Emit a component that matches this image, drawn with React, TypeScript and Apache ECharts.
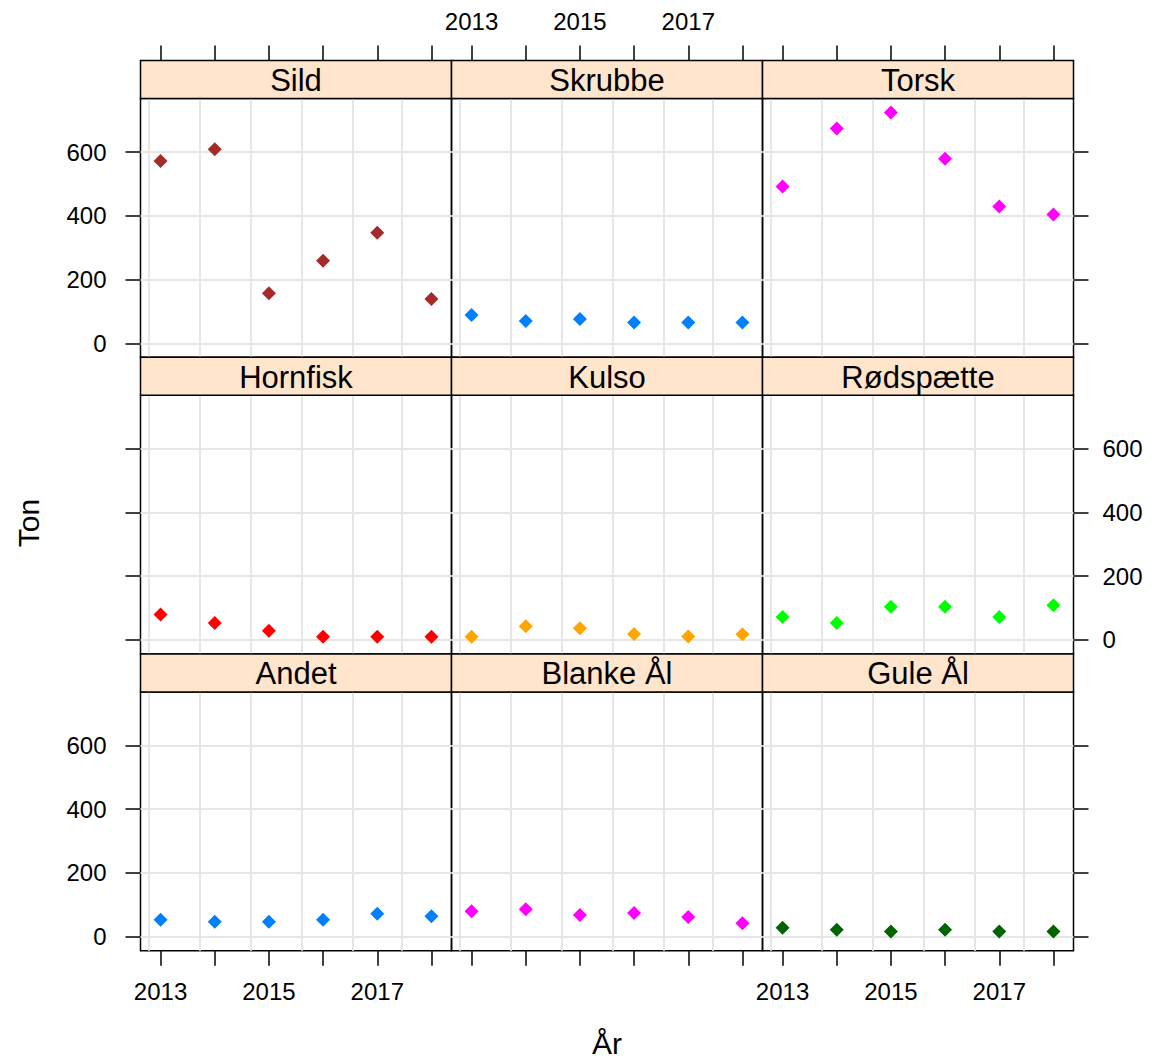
import React, { useEffect, useRef } from "react";
import * as echarts from "echarts";

const years = [2013, 2014, 2015, 2016, 2017, 2018];
const panelNames = ["Sild", "Skrubbe", "Torsk", "Hornfisk", "Kulso", "Rødspætte", "Andet", "Blanke Ål", "Gule Ål"];

const sild = [572, 609, 157, 259, 347, 139];
const skrubbe = [89, 70, 76, 65, 65, 65];
const torsk = [492, 674, 724, 579, 429, 404];
const hornfisk = [80, 53, 29, 10, 10, 10];
const kulso = [10, 43, 37, 19, 11, 18];
const roedspaette = [72, 53, 104, 104, 72, 109];
const andet = [53, 47, 47, 53, 72, 64];
const blankeAal = [80, 86, 68, 74, 62, 42];
const guleAal = [28, 22, 16, 22, 16, 16];

const panelValues = [sild, skrubbe, torsk, hornfisk, kulso, roedspaette, andet, blankeAal, guleAal];
const panelColors = ["#A52A2A", "#0080FF", "#FF00FF", "#FF0000", "#FFA500", "#00FF00", "#0080FF", "#FF00FF", "#006400"];

const yTicks = [0, 200, 400, 600];
const xTicks = [2013, 2014, 2015, 2016, 2017, 2018];
const xLabelTicks = [2013, 2015, 2017];
const xGridLines = [2012.78, 2013.72, 2014.66, 2015.6, 2016.54, 2017.46];

const FONT = "'Liberation Sans', Arial, sans-serif";

export default function App() {
  const ref = useRef<HTMLDivElement>(null);

  useEffect(() => {
    if (!ref.current) return;
    const chart = echarts.init(ref.current, null, { renderer: "svg" });

    const colLeft = [140.5, 451.5, 762.5];
    const panelW = 311;
    const stripTop = [60.5, 357.2, 653.9];
    const stripH = 38;
    const plotH = 258.8;

    const grids: any[] = [];
    const xAxes: any[] = [];
    const yAxes: any[] = [];
    const series: any[] = [];
    const graphics: any[] = [];

    for (let i = 0; i < 9; i++) {
      const r = Math.floor(i / 3);
      const c = i % 3;
      const left = colLeft[c];
      const top = stripTop[r] + stripH;
      grids.push({
        left,
        top,
        width: panelW,
        height: plotH,
        show: true,
        borderColor: "#000",
        borderWidth: 1.5,
        backgroundColor: "transparent",
        containLabel: false,
        outerBoundsMode: "none",
      });
      const xPos = r === 0 ? "top" : "bottom";
      const showXTicks = r !== 1;
      const showXLabels = (r === 0 && c === 1) || (r === 2 && c !== 1);
      xAxes.push({
        type: "value",
        gridIndex: i,
        min: 2012.63,
        max: 2018.37,
        position: xPos,
        offset: r === 0 ? stripH : 0,
        axisLine: { show: false, onZero: false },
        splitLine: { show: false },
        axisTick: {
          show: showXTicks,
          length: 15,
          inside: false,
          customValues: xTicks,
          lineStyle: { color: "#000", width: 1.5 },
        },
        axisLabel: {
          show: showXLabels,
          customValues: xLabelTicks,
          margin: r === 0 ? 27 : 29,
          fontSize: 24,
          fontFamily: FONT,
          color: "#000",
          formatter: (v: number) => String(v),
        },
      });
      const yPos = c === 2 ? "right" : "left";
      const showYTicks = c !== 1;
      const showYLabels = (c === 0 && r !== 1) || (c === 2 && r === 1);
      yAxes.push({
        type: "value",
        gridIndex: i,
        min: -44,
        max: 768,
        position: yPos,
        axisLine: { show: false, onZero: false },
        splitLine: { show: false },
        axisTick: {
          show: showYTicks,
          length: 15,
          inside: false,
          customValues: yTicks,
          lineStyle: { color: "#000", width: 1.5 },
        },
        axisLabel: {
          show: showYLabels,
          customValues: yTicks,
          margin: c === 0 ? 34 : 29,
          fontSize: 24,
          fontFamily: FONT,
          color: "#000",
        },
      });

      series.push({
        type: "scatter",
        xAxisIndex: i,
        yAxisIndex: i,
        data: [],
        z: 1,
        silent: true,
        markLine: {
          silent: true,
          z: 1,
          symbol: ["none", "none"],
          label: { show: false },
          lineStyle: { color: "#E6E6E6", width: 2, type: "solid", opacity: 1 },
          emphasis: { disabled: true },
          animation: false,
          data: [
            ...xGridLines.map((v) => ({ xAxis: v })),
            ...yTicks.map((v) => ({ yAxis: v })),
          ],
        },
      });
      series.push({
        type: "scatter",
        name: panelNames[i],
        xAxisIndex: i,
        yAxisIndex: i,
        z: 8,
        symbol: "diamond",
        symbolSize: 14,
        itemStyle: { color: panelColors[i], opacity: 1 },
        emphasis: { disabled: true },
        data: years.map((yr, j) => [yr, panelValues[i][j]]),
      });

      graphics.push({
        type: "rect",
        shape: { x: left, y: stripTop[r], width: panelW, height: stripH },
        style: { fill: "#FFE5CC", stroke: "#000", lineWidth: 1.5 },
        z: 10,
      });
      graphics.push({
        type: "text",
        x: left + panelW / 2,
        y: stripTop[r] + stripH / 2 + 1,
        z: 11,
        style: {
          text: panelNames[i],
          fontSize: 31,
          fontFamily: FONT,
          fill: "#000",
          textAlign: "center",
          textVerticalAlign: "middle",
          align: "center",
          verticalAlign: "middle",
        },
      });
    }

    graphics.push({
      type: "text",
      x: 28,
      y: 523,
      rotation: Math.PI / 2,
      style: {
        text: "Ton",
        fontSize: 30,
        fontFamily: FONT,
        fill: "#000",
        textAlign: "center",
        textVerticalAlign: "middle",
        align: "center",
        verticalAlign: "middle",
      },
    });
    graphics.push({
      type: "text",
      x: 607,
      y: 1043,
      style: {
        text: "År",
        fontSize: 30,
        fontFamily: FONT,
        fill: "#000",
        textAlign: "center",
        textVerticalAlign: "middle",
        align: "center",
        verticalAlign: "middle",
      },
    });

    chart.setOption({
      animation: false,
      backgroundColor: "#fff",
      grid: grids,
      xAxis: xAxes,
      yAxis: yAxes,
      series,
      graphic: graphics,
    });

    return () => {
      chart.dispose();
    };
  }, []);

  return (
    <div
      ref={ref}
      style={{ position: "absolute", left: 0, top: 0, width: 1153, height: 1063 }}
    />
  );
}
